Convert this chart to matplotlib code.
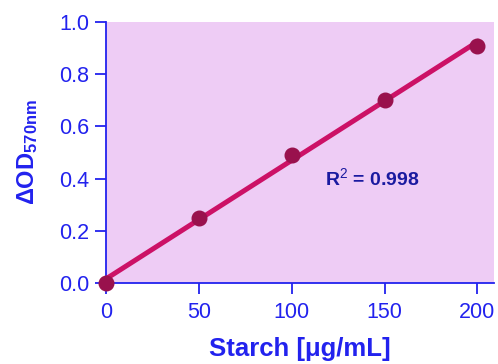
import numpy as np
import matplotlib
matplotlib.use("Agg")
import matplotlib.pyplot as plt

# standard curve values
starch = [0, 50, 100, 150, 200]
delta_od = [0.0, 0.25, 0.49, 0.70, 0.91]
xticks = [0, 50, 100, 150, 200]
yticks = [0.0, 0.2, 0.4, 0.6, 0.8, 1.0]
r2_text = "R$^2$ = 0.998"

blue = "#2222ee"
plt.rcParams['font.family'] = ['Liberation Sans', 'DejaVu Sans']
plt.rcParams['mathtext.fontset'] = 'custom'
plt.rcParams['mathtext.rm'] = 'Liberation Sans'
plt.rcParams['mathtext.bf'] = 'Liberation Sans:bold'

fig = plt.figure(figsize=(4.98, 3.64), dpi=100)
ax = fig.add_axes([0.213, 0.2225, 0.779, 0.717])
ax.set_facecolor("#eeccf5")

# linear fit line
slope, intercept = np.polyfit(starch, delta_od, 1)
xf = np.array([starch[0], starch[-1]])
ax.plot(xf, slope * xf + intercept, color="#cc1166", lw=3.6, clip_on=False, zorder=3)
ax.plot(starch, delta_od, "o", color="#99114d", ms=10.5, clip_on=False, zorder=4)

ax.set_xlim(0, 209)
ax.set_ylim(0, 1.0)
ax.set_xticks(xticks)
ax.set_yticks(yticks)
ax.set_yticklabels(["%.1f" % v for v in yticks])

for s in ["top", "right"]:
    ax.spines[s].set_visible(False)
for s in ["left", "bottom"]:
    ax.spines[s].set_color(blue)
    ax.spines[s].set_linewidth(1.3)
ax.tick_params(colors=blue, labelsize=15.5, length=8, width=1.3, direction="out", pad=4)
ax.tick_params(axis="x", pad=6)

ax.set_xlabel("Starch [\u03bcg/mL]", color=blue, fontsize=18.5, fontweight="bold", labelpad=10)
ax.set_ylabel(r"$\mathbf{\Delta OD_{570nm}}$", color=blue, fontsize=17, labelpad=14)

ax.text(118, 0.40, r2_text, color="#1a1aa0", fontsize=14, fontweight="bold", va="center",
        family=['Liberation Sans Narrow', 'Liberation Sans'])

fig.savefig("out.png", dpi=100)
